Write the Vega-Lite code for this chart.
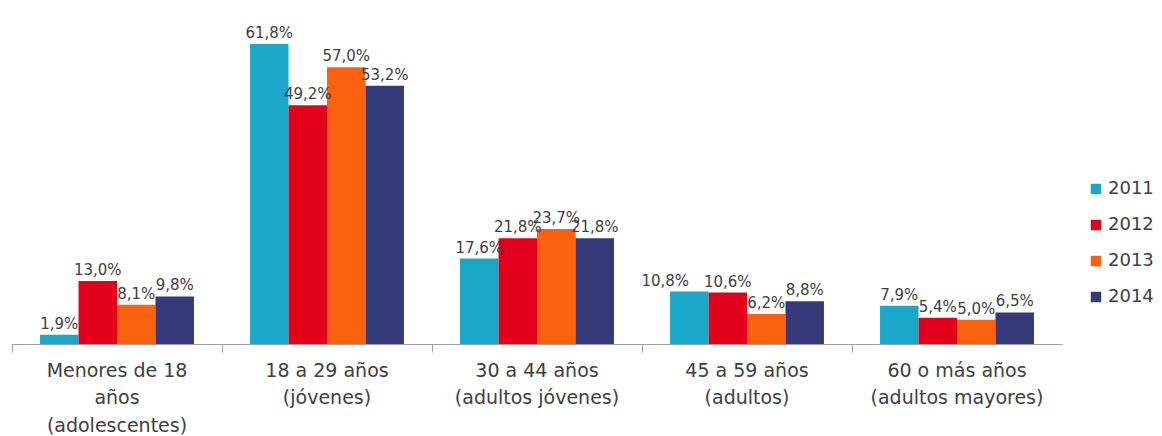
{
  "$schema": "https://vega.github.io/schema/vega-lite/v6.json",
  "width": 1050,
  "height": 334,
  "autosize": {"type": "none"},
  "padding": {"left": 12, "top": 10, "right": 100, "bottom": 92},
  "background": "white",
  "config": {
    "view": {"stroke": null},
    "font": "DejaVu Sans"
  },
  "data": {
    "values": [
      {"grupo": "Menores de 18 años (adolescentes)", "anio": "2011", "valor": 1.9},
      {"grupo": "Menores de 18 años (adolescentes)", "anio": "2012", "valor": 13.0},
      {"grupo": "Menores de 18 años (adolescentes)", "anio": "2013", "valor": 8.1},
      {"grupo": "Menores de 18 años (adolescentes)", "anio": "2014", "valor": 9.8},
      {"grupo": "18 a 29 años (jóvenes)", "anio": "2011", "valor": 61.8},
      {"grupo": "18 a 29 años (jóvenes)", "anio": "2012", "valor": 49.2},
      {"grupo": "18 a 29 años (jóvenes)", "anio": "2013", "valor": 57.0},
      {"grupo": "18 a 29 años (jóvenes)", "anio": "2014", "valor": 53.2},
      {"grupo": "30 a 44 años (adultos jóvenes)", "anio": "2011", "valor": 17.6},
      {"grupo": "30 a 44 años (adultos jóvenes)", "anio": "2012", "valor": 21.8},
      {"grupo": "30 a 44 años (adultos jóvenes)", "anio": "2013", "valor": 23.7},
      {"grupo": "30 a 44 años (adultos jóvenes)", "anio": "2014", "valor": 21.8},
      {"grupo": "45 a 59 años (adultos)", "anio": "2011", "valor": 10.8},
      {"grupo": "45 a 59 años (adultos)", "anio": "2012", "valor": 10.6},
      {"grupo": "45 a 59 años (adultos)", "anio": "2013", "valor": 6.2},
      {"grupo": "45 a 59 años (adultos)", "anio": "2014", "valor": 8.8},
      {"grupo": "60 o más años (adultos mayores)", "anio": "2011", "valor": 7.9},
      {"grupo": "60 o más años (adultos mayores)", "anio": "2012", "valor": 5.4},
      {"grupo": "60 o más años (adultos mayores)", "anio": "2013", "valor": 5.0},
      {"grupo": "60 o más años (adultos mayores)", "anio": "2014", "valor": 6.5}
    ]
  },
  "transform": [
    {"calculate": "replace(format(datum.valor, '.1f'), '.', ',') + '%'", "as": "etiqueta"}
  ],
  "encoding": {
    "x": {
      "field": "grupo",
      "type": "nominal",
      "sort": null,
      "scale": {"paddingInner": 0.267, "paddingOuter": 0.1335}
    },
    "xOffset": {"field": "anio", "type": "nominal", "scale": {"paddingInner": 0, "paddingOuter": 0}},
    "y": {
      "field": "valor",
      "type": "quantitative",
      "scale": {"domain": [0, 68.8], "nice": false},
      "axis": null
    }
  },
  "layer": [
    {
      "mark": {"type": "bar"},
      "encoding": {
        "color": {
          "field": "anio",
          "type": "nominal",
          "scale": {"domain": ["2011", "2012", "2013", "2014"], "range": ["#1ba7c9", "#e3001b", "#fa620f", "#343b78"]},
          "legend": {
            "title": null,
            "orient": "none",
            "legendX": 1075,
            "legendY": 170,
            "symbolType": "square",
            "symbolSize": 110,
            "symbolStrokeWidth": 0,
            "labelFontSize": 18,
            "labelColor": "#404040",
            "labelOffset": 3,
            "rowPadding": 18
          }
        },
        "x": {
          "field": "grupo",
          "type": "nominal",
          "sort": null,
          "axis": {
            "title": null,
            "orient": "bottom",
            "ticks": false,
            "domain": false,
            "labelAngle": 0,
            "labelFontSize": 19,
            "labelColor": "#404040",
            "labelPadding": 26,
            "labelLineHeight": 27.5,
            "labelBaseline": "middle",
            "labelExpr": "datum.value == 'Menores de 18 años (adolescentes)' ? ['Menores de 18', 'años', '(adolescentes)'] : datum.value == '18 a 29 años (jóvenes)' ? ['18 a 29 años', '(jóvenes)'] : datum.value == '30 a 44 años (adultos jóvenes)' ? ['30 a 44 años', '(adultos jóvenes)'] : datum.value == '45 a 59 años (adultos)' ? ['45 a 59 años', '(adultos)'] : ['60 o más años', '(adultos mayores)']"
          }
        }
      }
    },
    {
      "transform": [{"filter": "!(datum.grupo == '45 a 59 años (adultos)' && datum.anio == '2011')"}],
      "mark": {"type": "text", "dy": -11, "fontSize": 15, "color": "#404040"},
      "encoding": {
        "text": {"field": "etiqueta"},
        "x": {
          "field": "grupo",
          "type": "nominal",
          "sort": null,
          "axis": {
            "title": null,
            "orient": "bottom",
            "labels": false,
            "ticks": true,
            "tickSize": 8,
            "tickColor": "#a0a0a0",
            "domain": true,
            "domainColor": "#a0a0a0",
            "bandPosition": -0.182
          }
        }
      }
    },
    {
      "transform": [{"filter": "datum.grupo == '45 a 59 años (adultos)' && datum.anio == '2011'"}],
      "mark": {"type": "text", "dy": -11, "dx": -24, "fontSize": 15, "color": "#404040"},
      "encoding": {
        "text": {"field": "etiqueta"},
        "x": {"field": "grupo", "type": "nominal", "sort": null, "axis": null}
      }
    }
  ],
  "resolve": {"axis": {"x": "independent"}}
}
